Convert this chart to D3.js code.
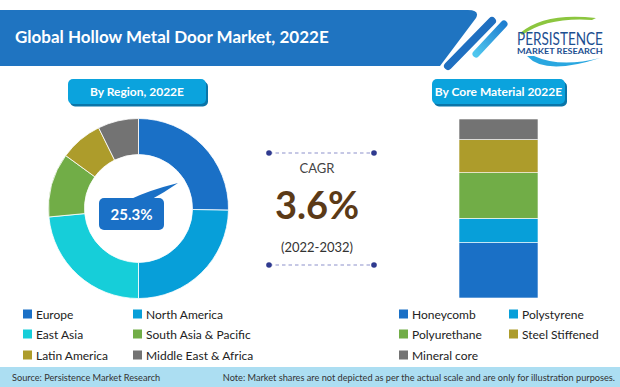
<!DOCTYPE html>
<html>
<head>
<meta charset="utf-8">
<script src="https://cdn.jsdelivr.net/npm/d3@7"></script>
<style>
  html, body { margin: 0; padding: 0; background: #fff; }
  svg { display: block; }
  text { font-family: Lato, "Open Sans", sans-serif; }
</style>
</head>
<body>
<svg id="chart" width="620" height="387"></svg>
<script>
// ---- data ----
const regions = ["Europe", "North America", "East Asia", "South Asia & Pacific", "Latin America", "Middle East & Africa"];
const regionShares = [25.3, 24.7, 23.5, 11.5, 7.7, 7.3];
const regionColors = ["#1a70c6", "#079fd9", "#16ced9", "#71ad47", "#ad9c2b", "#737373"];

const materials = ["Honeycomb", "Polystyrene", "Polyurethane", "Steel Stiffened", "Mineral core"];
const materialShares = [31, 13.5, 25.5, 18.5, 11.5];
const materialColors = ["#1a70c6", "#079fd9", "#71ad47", "#ad9c2b", "#737373"];

const titleText = "Global Hollow Metal Door Market, 2022E";
const regionTitle = "By Region, 2022E";
const materialTitle = "By Core Material 2022E";
const cagrValue = "3.6%";
const cagrPeriod = "(2022-2032)";
const highlightLabel = "25.3%";

const svg = d3.select("#chart");

// ---- header banner ----
svg.append("path")
  .attr("d", "M0,10 L468,10 Q480,10 476,18 L440,66 L0,66 Z")
  .attr("fill", "#1f74c1");
svg.append("line").attr("x1", 492).attr("y1", 21).attr("x2", 448).attr("y2", 66)
  .attr("stroke", "#1f6fc0").attr("stroke-width", 8).attr("stroke-linecap", "round");
const grad = svg.append("defs").append("linearGradient").attr("id", "stripe")
  .attr("x1", "1").attr("y1", "0").attr("x2", "0").attr("y2", "1");
grad.append("stop").attr("offset", "0").attr("stop-color", "#1f7fd0");
grad.append("stop").attr("offset", "1").attr("stop-color", "#4fc6ee");
svg.append("line").attr("x1", 504).attr("y1", 24).attr("x2", 476).attr("y2", 54)
  .attr("stroke", "url(#stripe)").attr("stroke-width", 7).attr("stroke-linecap", "round");

svg.append("text").attr("x", 15).attr("y", 43)
  .attr("fill", "#fff").attr("font-size", 17).attr("font-weight", 700)
  .text(titleText);

// ---- logo ----
const logo = svg.append("g");
logo.append("path").attr("d", "M520,33 Q545,12 596,18 L592,20 Q548,17 522,35 Z").attr("fill", "#8cc63f");
logo.append("path").attr("d", "M527,56 Q545,76 600,58 Q560,68 534,56 Z").attr("fill", "#2aa7e0");
function fitText(g, x, yy, w, size, weight, str) {
  const wrap = g.append("g");
  const t = wrap.append("text").attr("x", 0).attr("y", 0)
    .attr("font-family", "Roboto, 'DejaVu Sans', sans-serif")
    .attr("font-size", size).attr("font-weight", weight).attr("fill", "#1d4f91").text(str);
  const len = t.node().getComputedTextLength();
  wrap.attr("transform", `translate(${x},${yy}) scale(${w / len},1)`);
}
fitText(logo, 517, 45, 86, 18, 400, "PERSISTENCE");
fitText(logo, 517, 54, 86, 6.5, 700, "MARKET RESEARCH");

// ---- pills ----
function pill(x, y, w, h, label) {
  svg.append("rect").attr("x", x + 2).attr("y", y + 2.5).attr("width", w).attr("height", h)
    .attr("rx", 5).attr("fill", "#0a75a8");
  svg.append("rect").attr("x", x).attr("y", y).attr("width", w).attr("height", h)
    .attr("rx", 5).attr("fill", "#0ba3dd");
  svg.append("text").attr("x", x + w / 2).attr("y", y + h / 2 + 4.5)
    .attr("text-anchor", "middle").attr("fill", "#fff")
    .attr("font-size", 12).attr("font-weight", 700).text(label);
}
pill(68, 79, 138, 25, regionTitle);
pill(432, 79, 133, 25, materialTitle);

// ---- donut ----
const cx = 138.5, cy = 208.5;
const pie = d3.pie().sort(null).value(d => d)(regionShares);
const arc = d3.arc().innerRadius(54).outerRadius(90);
const dg = svg.append("g").attr("transform", `translate(${cx},${cy})`);
dg.selectAll("path").data(pie).join("path")
  .attr("d", arc)
  .attr("fill", (d, i) => regionColors[i])
  .attr("stroke", "#fff").attr("stroke-width", 0.8);

// callout
svg.append("path")
  .attr("d", "M131,199 Q150,190 178,183 Q165,192 152,199 Z")
  .attr("fill", "#1a70c6");
svg.append("rect").attr("x", 99).attr("y", 198).attr("width", 65).attr("height", 32)
  .attr("rx", 5).attr("fill", "#1a70c6");
svg.append("text").attr("x", 131.5).attr("y", 220)
  .attr("text-anchor", "middle").attr("fill", "#fff")
  .attr("font-size", 15).attr("font-weight", 700).text(highlightLabel);

// ---- CAGR ----
function dotLine(y) {
  svg.append("line").attr("x1", 269).attr("x2", 374).attr("y1", y).attr("y2", y)
    .attr("stroke", "#8d92cc").attr("stroke-width", 1.2).attr("stroke-dasharray", "3.5,3");
  [269, 374].forEach(x => svg.append("circle").attr("cx", x).attr("cy", y).attr("r", 2.8).attr("fill", "#2f3a8f"));
}
dotLine(153);
dotLine(265);
svg.append("text").attr("x", 317).attr("y", 173).attr("text-anchor", "middle")
  .attr("fill", "#444").attr("font-size", 13).text("CAGR");
svg.append("text").attr("x", 317).attr("y", 219).attr("text-anchor", "middle")
  .attr("fill", "#5b3a17").attr("font-size", 38).attr("font-weight", 700).text(cagrValue);
svg.append("text").attr("x", 317).attr("y", 252).attr("text-anchor", "middle")
  .attr("fill", "#333").attr("font-size", 13).text(cagrPeriod);

// ---- stacked bar ----
const y = d3.scaleLinear().domain([0, d3.sum(materialShares)]).range([298, 119]);
let acc = 0;
const stacks = materialShares.map(v => { const s = { y0: acc, y1: acc + v }; acc += v; return s; });
svg.append("g").selectAll("rect").data(stacks).join("rect")
  .attr("x", 459).attr("width", 79)
  .attr("y", d => y(d.y1)).attr("height", d => y(d.y0) - y(d.y1))
  .attr("fill", (d, i) => materialColors[i])
  .attr("stroke", "#fff").attr("stroke-width", 0.6);

// ---- legends ----
function legend(items, colors, cols, rowY) {
  items.forEach((name, i) => {
    const cxp = cols[i % 2], ry = rowY[Math.floor(i / 2)];
    svg.append("rect").attr("x", cxp).attr("y", ry - 4.5).attr("width", 9).attr("height", 9).attr("fill", colors[i]);
    svg.append("text").attr("x", cxp + 13).attr("y", ry + 4.5)
      .attr("fill", "#222").attr("font-size", 12).text(name);
  });
}
legend(regions, regionColors, [23, 133], [314, 334, 355]);
legend(materials, materialColors, [399, 509], [314, 334, 355]);

// ---- footer ----
svg.append("rect").attr("x", 0).attr("y", 367).attr("width", 620).attr("height", 20).attr("fill", "#acdef2");
svg.append("text").attr("x", 12).attr("y", 381).attr("fill", "#333").attr("font-size", 9.2)
  .text("Source: Persistence Market Research");
svg.append("text").attr("x", 615).attr("y", 381).attr("text-anchor", "end").attr("fill", "#333").attr("font-size", 9.2)
  .text("Note: Market shares are not depicted as per the actual scale and are only for illustration purposes.");
</script>
</body>
</html>
